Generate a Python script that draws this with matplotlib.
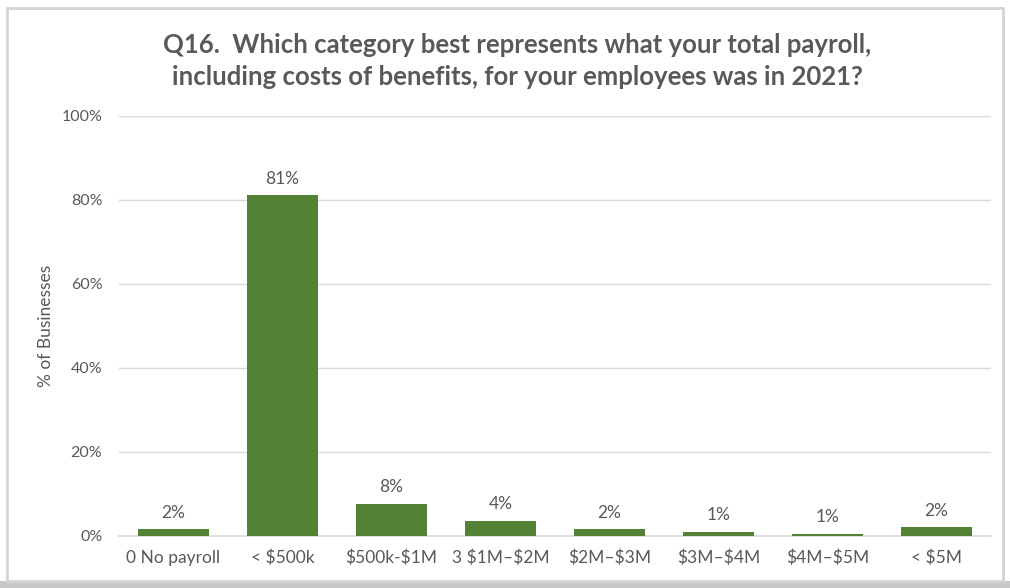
import matplotlib
matplotlib.use("Agg")
import matplotlib.pyplot as plt
from matplotlib.patches import Rectangle
from matplotlib.ticker import FuncFormatter

categories = ["0 No payroll", "< $500k", "$500k-$1M", "3 $1M\u2013$2M",
              "$2M\u2013$3M", "$3M\u2013$4M", "$4M\u2013$5M", "< $5M"]
share_pct = [1.5, 81.1, 7.6, 3.6, 1.5, 1.0, 0.5, 2.1]
y_ticks = [0, 20, 40, 60, 80, 100]

title = ("Q16.  Which category best represents what your total payroll,\n"
         "including costs of benefits, for your employees was in 2021?")
y_label = "% of Businesses"

bar_color = "#548235"
text_color = "#595959"
grid_color = "#d9d9d9"

plt.rcParams["font.family"] = ["Lato", "DejaVu Sans"]

fig = plt.figure(figsize=(10.1, 5.88), dpi=100)

# outer chart frame with a soft shadow along the bottom edge
fig.patches.append(Rectangle((0, 0), 1, 0.012, transform=fig.transFigure,
                             facecolor="#c8c8c8", edgecolor="none", zorder=0))
fig.patches.append(Rectangle((0.007, 0.012), 0.986, 0.975, transform=fig.transFigure,
                             facecolor="white", edgecolor="#d4d4d4", linewidth=2, zorder=1))

ax = fig.add_axes([0.1178, 0.0889, 0.8634, 0.7143])
ax.set_zorder(2)
ax.patch.set_alpha(0)

x = range(len(categories))
bars = ax.bar(x, share_pct, width=0.65, color=bar_color, zorder=3)

for rect, v in zip(bars, share_pct):
    ax.annotate(f"{int(v + 0.5)}%",
                (rect.get_x() + rect.get_width() / 2, rect.get_height()),
                xytext=(0, 6), textcoords="offset points",
                ha="center", va="bottom", fontsize=12.5, color=text_color)

ax.set_xlim(-0.5, len(categories) - 0.5)
ax.set_ylim(0, 100)
ax.set_yticks(y_ticks)
ax.yaxis.set_major_formatter(FuncFormatter(lambda v, _: f"{v:.0f}%"))
ax.set_xticks(list(x))
# escape dollar signs so they are drawn literally, not as math
ax.set_xticklabels([c.replace("$", r"\$") for c in categories])

ax.grid(axis="y", color=grid_color, linewidth=1, zorder=0)
ax.set_axisbelow(True)
for side in ["top", "right", "left"]:
    ax.spines[side].set_visible(False)
ax.spines["bottom"].set_color(grid_color)
ax.spines["bottom"].set_linewidth(1.2)

ax.tick_params(axis="both", length=0, colors=text_color)
ax.tick_params(axis="y", pad=12, labelsize=11.5)
ax.tick_params(axis="x", pad=10, labelsize=12.5)

ax.set_ylabel(y_label, fontsize=12.5, color=text_color, labelpad=5)

fig.text(0.512, 0.897, title, ha="center", va="center", fontsize=18.5,
         fontweight="bold", color=text_color, linespacing=1.4)

fig.savefig("out.png", dpi=100)
